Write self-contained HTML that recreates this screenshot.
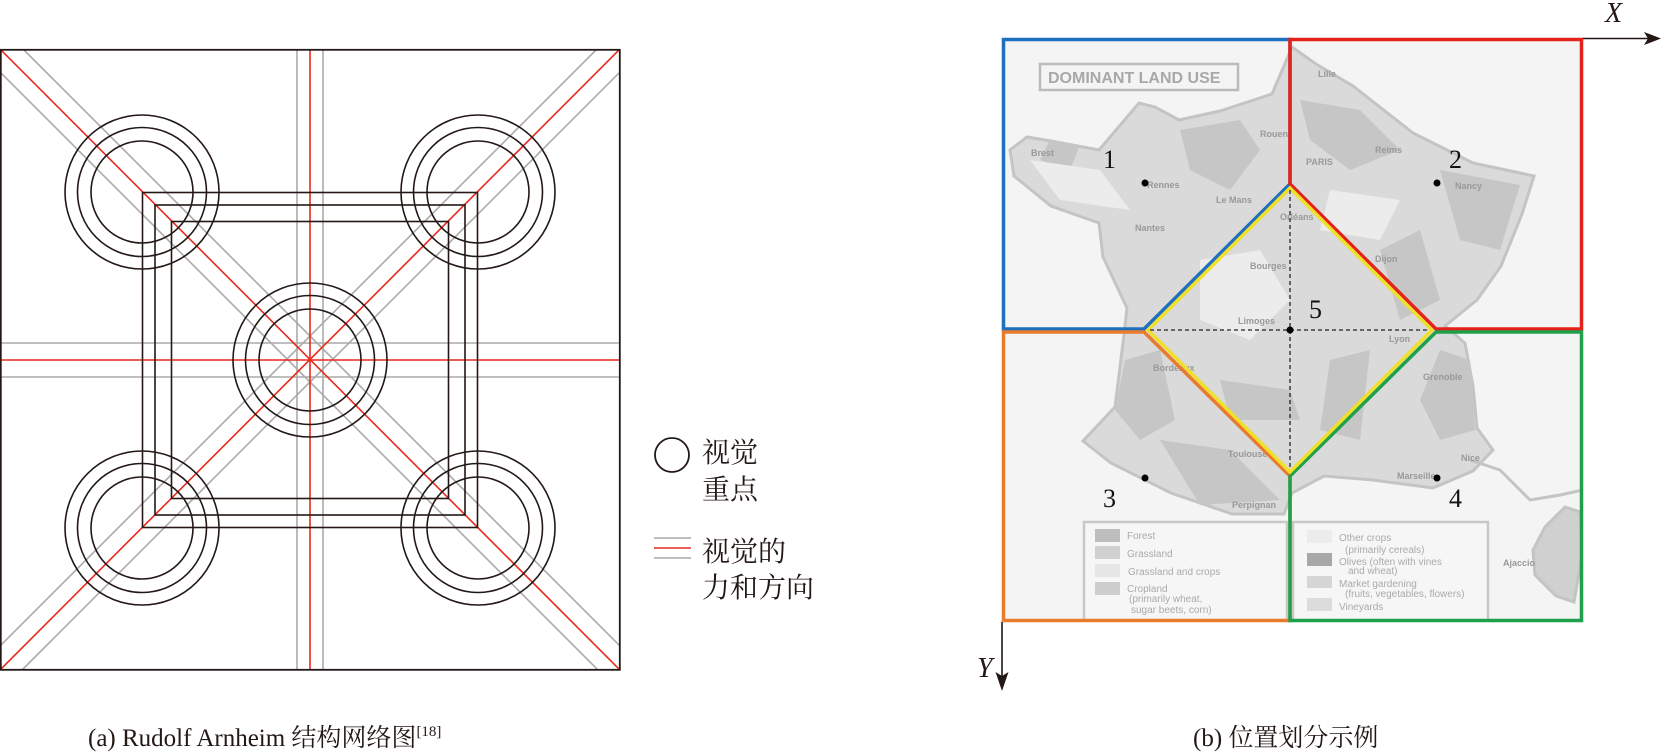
<!DOCTYPE html>
<html><head><meta charset="utf-8"><style>html,body{margin:0;padding:0;background:#fff;}svg{display:block}</style></head>
<body>
<svg width="1661" height="753" viewBox="0 0 1661 753" xmlns="http://www.w3.org/2000/svg">
<defs><clipPath id="sq"><rect x="0" y="49" width="620" height="621"/></clipPath>
<clipPath id="mp"><rect x="1002" y="38" width="581" height="584"/></clipPath></defs>
<!-- LEFT -->
<g clip-path="url(#sq)" stroke-width="1.6" fill="none">
<g stroke="#aaa">
<line x1="23" y1="49" x2="644" y2="670"/><line x1="-23" y1="49" x2="598" y2="670"/>
<line x1="597" y1="49" x2="-24" y2="670"/><line x1="643" y1="49" x2="22" y2="670"/>
<line x1="297" y1="49" x2="297" y2="670"/><line x1="323" y1="49" x2="323" y2="670"/>
<line x1="0" y1="343" x2="620" y2="343"/><line x1="0" y1="377" x2="620" y2="377"/>
</g>
<g stroke="#e8281e">
<line x1="0" y1="49" x2="620" y2="670"/><line x1="620" y1="49" x2="0" y2="670"/>
<line x1="310" y1="49" x2="310" y2="670"/><line x1="0" y1="360" x2="620" y2="360"/>
</g>
<g stroke="#231815">
<rect x="142.5" y="192.5" width="335" height="335"/>
<rect x="155" y="205" width="310" height="310"/>
<rect x="171.5" y="221.5" width="277" height="277"/>
<g id="cc"><circle r="77" cx="310" cy="360"/><circle r="64.5" cx="310" cy="360"/><circle r="51" cx="310" cy="360"/></g>
<use href="#cc" x="-168" y="-168"/><use href="#cc" x="168" y="-168"/>
<use href="#cc" x="-168" y="168"/><use href="#cc" x="168" y="168"/>
</g>
</g>
<rect x="0.8" y="49.8" width="619" height="620" fill="none" stroke="#231815" stroke-width="1.8"/>
<!-- legend -->
<circle cx="672" cy="455" r="17" fill="none" stroke="#231815" stroke-width="1.8"/>
<g font-family="'Liberation Serif','Noto Serif CJK SC',serif" font-size="28" fill="#231815">
<text x="702" y="462">视觉</text><text x="702" y="499">重点</text>
<text x="702" y="561">视觉的</text><text x="702" y="597">力和方向</text>
</g>
<line x1="654" y1="538" x2="691" y2="538" stroke="#aaa" stroke-width="1.6"/>
<line x1="654" y1="548" x2="691" y2="548" stroke="#e8281e" stroke-width="1.6"/>
<line x1="654" y1="558" x2="691" y2="558" stroke="#aaa" stroke-width="1.6"/>
<!-- RIGHT map -->
<g clip-path="url(#mp)">
<rect x="1002" y="38" width="581" height="584" fill="#f4f4f4"/>
<path d="M1010,150 L1027,137 1051,141 1099,150 1139,103 1155,107 1179,120 1220,111 1272,94 1292,47 1316,64 1353,86 1413,133 1473,163 1534,176 1522,214 1501,266 1477,300 1445,326 1465,343 1473,386 1477,428 1493,450 1473,471 1433,488 1373,480 1324,476 1292,493 1284,514 1232,514 1171,493 1111,463 1083,441 1115,407 1123,343 1127,308 1103,257 1099,223 1051,206 1014,176 Z" fill="#dadada" stroke="#c4c4c4" stroke-width="3"/>
<g fill="#c6c6c6">
<path d="M1180,130 L1240,120 1260,150 1230,190 1190,170 Z"/>
<path d="M1300,100 L1360,110 1400,150 1350,170 1310,140 Z"/>
<path d="M1440,170 L1520,185 1500,250 1460,240 Z"/>
<path d="M1380,250 L1420,230 1440,300 1400,320 Z"/>
<path d="M1440,350 L1470,360 1475,430 1440,440 1420,400 Z"/>
<path d="M1125,360 L1160,350 1175,420 1140,440 1115,410 Z"/>
<path d="M1330,360 L1370,350 1360,440 1320,430 Z"/>
<path d="M1160,440 L1230,450 1280,500 1200,505 Z"/>
<path d="M1220,380 L1290,390 1300,420 1230,420 Z"/>
<path d="M1050,140 L1080,145 1070,170 1040,160 Z"/>
</g>
<g fill="#ececec">
<path d="M1200,260 L1260,250 1290,300 1250,340 1200,320 Z"/>
<path d="M1030,160 L1100,170 1130,210 1060,200 Z"/>
<path d="M1330,190 L1400,200 1380,240 1320,230 Z"/>
</g>
<path d="M1470,460 L1500,470 1530,500 1560,495 1583,490" fill="none" stroke="#c4c4c4" stroke-width="3"/>
<path d="M1565,507 L1580,512 1583,550 1574,602 1556,596 1535,575 1533,550 1545,527 Z" fill="#d0d0d0" stroke="#c4c4c4" stroke-width="3"/>
<rect x="1040" y="64" width="198" height="26" fill="none" stroke="#bbb" stroke-width="2.5"/>
<text x="1048" y="83" font-family="'Liberation Sans',sans-serif" font-size="16" font-weight="bold" fill="#a8a8a8">DOMINANT  LAND  USE</text>
<g font-family="'Liberation Sans',sans-serif" font-size="9" font-weight="bold" fill="#999">
<text x="1031" y="156">Brest</text><text x="1147" y="188">Rennes</text><text x="1216" y="203">Le Mans</text>
<text x="1135" y="231">Nantes</text><text x="1260" y="137">Rouen</text><text x="1306" y="165">PARIS</text>
<text x="1375" y="153">Reims</text><text x="1455" y="189">Nancy</text><text x="1318" y="77">Lille</text>
<text x="1280" y="220">Orléans</text><text x="1250" y="269">Bourges</text><text x="1375" y="262">Dijon</text>
<text x="1238" y="324">Limoges</text><text x="1389" y="342">Lyon</text><text x="1153" y="371">Bordeaux</text>
<text x="1423" y="380">Grenoble</text><text x="1228" y="457">Toulouse</text><text x="1397" y="479">Marseille</text>
<text x="1461" y="461">Nice</text><text x="1232" y="508">Perpignan</text><text x="1503" y="566">Ajaccio</text>
</g>
<rect x="1084" y="522" width="203" height="106" fill="#f6f6f6" stroke="#c8c8c8" stroke-width="2.5"/>
<rect x="1293" y="522" width="195" height="106" fill="#f6f6f6" stroke="#c8c8c8" stroke-width="2.5"/>
<g>
<rect x="1095" y="529" width="25" height="13" fill="#bdbdbd"/><rect x="1095" y="546" width="25" height="13" fill="#d0d0d0"/>
<rect x="1095" y="564" width="25" height="13" fill="#e6e6e6"/><rect x="1095" y="582" width="25" height="13" fill="#cdcdcd"/>
<rect x="1307" y="530" width="25" height="13" fill="#ececec"/><rect x="1307" y="553" width="25" height="13" fill="#a8a8a8"/>
<rect x="1307" y="576" width="25" height="12" fill="#d6d6d6"/><rect x="1307" y="598" width="25" height="13" fill="#dcdcdc"/>
</g>
<g font-family="'Liberation Sans',sans-serif" font-size="10" fill="#aaa">
<text x="1127" y="539">Forest</text><text x="1127" y="557">Grassland</text><text x="1128" y="575">Grassland and crops</text>
<text x="1127" y="592">Cropland</text><text x="1129" y="602">(primarily wheat,</text><text x="1131" y="613">sugar beets, corn)</text>
<text x="1339" y="541">Other crops</text><text x="1345" y="553">(primarily cereals)</text>
<text x="1339" y="565">Olives (often with vines</text><text x="1348" y="574">and wheat)</text>
<text x="1339" y="587">Market gardening</text><text x="1345" y="597">(fruits, vegetables, flowers)</text>
<text x="1339" y="610">Vineyards</text>
</g>
</g>
<!-- region boxes -->
<g fill="none" stroke-width="3.5">
<path d="M1003.5,329 V39.5 H1290 V184 L1144,329 Z" stroke="#1f6fbf"/>
<path d="M1290,39.5 H1581.5 V329 H1436 L1290,184 Z" stroke="#e3221c"/>
<path d="M1003.5,332 H1144 L1290,476 V620.5 H1003.5 Z" stroke="#e87b2d"/>
<path d="M1436,332 H1581.5 V620.5 H1290 V476 Z" stroke="#1fa04a"/>
<path d="M1290,188 L1432,330 1290,472 1148,330 Z" stroke="#f0e02a"/>
</g>
<g stroke="#222" stroke-width="1.3" stroke-dasharray="4,3">
<line x1="1290" y1="190" x2="1290" y2="470"/><line x1="1150" y1="330" x2="1430" y2="330"/>
</g>
<g fill="#000"><circle cx="1290" cy="330" r="3.5"/><circle cx="1145" cy="183" r="3.5"/><circle cx="1437" cy="183" r="3.5"/>
<circle cx="1145" cy="478" r="3.5"/><circle cx="1437" cy="478" r="3.5"/></g>
<g font-family="'Liberation Serif',serif" font-size="26" fill="#111">
<text x="1103" y="168">1</text><text x="1449" y="168">2</text><text x="1103" y="507">3</text><text x="1449" y="507">4</text><text x="1309" y="318">5</text>
</g>
<!-- axes -->
<line x1="1583" y1="38.5" x2="1650" y2="38.5" stroke="#231815" stroke-width="1.6"/>
<path d="M1661,38.5 L1644,32 1648,38.5 1644,45 Z" fill="#231815"/>
<line x1="1002" y1="622" x2="1002" y2="680" stroke="#231815" stroke-width="1.6"/>
<path d="M1002,691 L995.5,672 1002,676 1008.5,672 Z" fill="#231815"/>
<g font-family="'Liberation Serif',serif" font-size="28" font-style="italic" fill="#231815">
<text x="1605" y="22">X</text><text x="977" y="677">Y</text>
</g>
<!-- captions -->
<g font-family="'Liberation Serif','Noto Serif CJK SC',serif" font-size="25" fill="#231815">
<text x="88" y="746">(a) Rudolf Arnheim 结构网络图<tspan font-size="15" dy="-10">[18]</tspan></text>
<text x="1193" y="746">(b) 位置划分示例</text>
</g>
</svg>
</body></html>
